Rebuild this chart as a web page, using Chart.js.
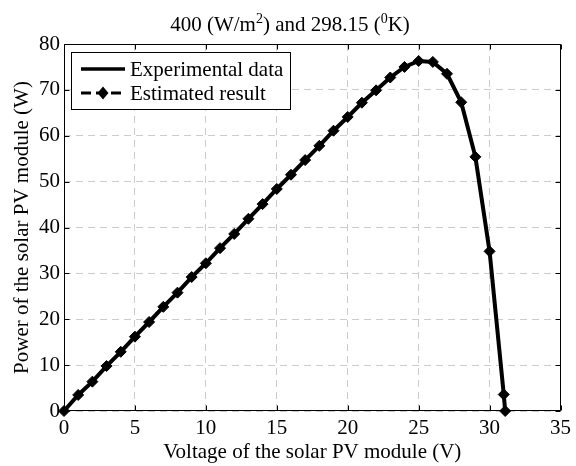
<!DOCTYPE html>
<html>
<head>
<meta charset="utf-8">
<script src="https://cdn.jsdelivr.net/npm/chart.js@4.4.1/dist/chart.umd.min.js"></script>
<style>
  html, body { margin: 0; padding: 0; background: #ffffff; }
  #wrap { width: 576px; height: 466px; }
</style>
</head>
<body>
<div id="wrap"><canvas id="chartPV" width="576" height="466"></canvas></div>
<script>
// values
const voltage = [0, 1, 2, 3, 4, 5, 6, 7, 8, 9, 10, 11, 12, 13, 14, 15, 16, 17, 18, 19, 20,
  21, 22, 23, 24, 25, 26, 27, 28, 29, 30, 31, 31.1];
const powerExperimental = [0, 3.5, 6.4, 9.8, 12.9, 16.2, 19.4, 22.7, 25.8, 29.2, 32.2, 35.5, 38.6,
  41.9, 45.1, 48.4, 51.5, 54.7, 57.8, 61.1, 64.1, 67.2, 69.9, 72.7, 75.0, 76.3, 76.1, 73.5, 67.3,
  55.4, 34.8, 3.6, 0];
const powerEstimated = [0, 3.5, 6.4, 9.8, 12.9, 16.2, 19.4, 22.7, 25.8, 29.2, 32.2, 35.5, 38.6,
  41.9, 45.1, 48.4, 51.5, 54.7, 57.8, 61.1, 64.1, 67.2, 69.9, 72.7, 75.0, 76.3, 76.1, 73.5, 67.3,
  55.4, 34.8, 3.6, 0];
const xTicks = [0, 5, 10, 15, 20, 25, 30, 35];
const yTicks = [0, 10, 20, 30, 40, 50, 60, 70, 80];
const seriesNames = ["Experimental data", "Estimated result"];

const FONT = "'Liberation Serif', 'Times New Roman', serif";

const toPoints = (xs, ys) => xs.map((x, i) => ({ x, y: ys[i] }));

// box + inward ticks on all four sides (matlab style)
const frame = {
  id: "frame",
  beforeDatasetsDraw(chart) {
    const { ctx, chartArea: a, scales: { x, y } } = chart;
    const L = Math.round(a.left) + 0.5, R = Math.round(a.right) - 0.5;
    const T = Math.round(a.top) + 0.5, B = Math.round(a.bottom) - 0.5;
    ctx.save();
    ctx.strokeStyle = "#000";
    ctx.lineWidth = 1;
    ctx.beginPath();
    ctx.rect(L, T, R - L, B - T);
    xTicks.forEach(v => {
      const px = Math.round(x.getPixelForValue(v)) + 0.5;
      ctx.moveTo(px, B); ctx.lineTo(px, B - 5);
      ctx.moveTo(px, T); ctx.lineTo(px, T + 5);
    });
    yTicks.forEach(v => {
      const py = Math.round(y.getPixelForValue(v)) + 0.5;
      ctx.moveTo(L, py); ctx.lineTo(L + 5, py);
      ctx.moveTo(R, py); ctx.lineTo(R - 5, py);
    });
    ctx.stroke();
    ctx.restore();
  }
};

// title with superscripts
const titleSup = {
  id: "titleSup",
  afterDraw(chart) {
    const ctx = chart.ctx;
    const parts = [
      ["400 (W/m", false], ["2", true], [") and 298.15 (", false], ["0", true], ["K)", false]
    ];
    const big = "21px " + FONT, small = "14px " + FONT;
    ctx.save();
    let total = 0;
    parts.forEach(([t, sup]) => { ctx.font = sup ? small : big; total += ctx.measureText(t).width; });
    let x = 290 - total / 2;
    const base = 31;
    ctx.fillStyle = "#000";
    ctx.textBaseline = "alphabetic";
    ctx.textAlign = "left";
    parts.forEach(([t, sup]) => {
      ctx.font = sup ? small : big;
      ctx.fillText(t, x, sup ? base - 8 : base);
      x += ctx.measureText(t).width;
    });
    ctx.restore();
  }
};

// legend box in the upper left corner
const legendBox = {
  id: "legendBox",
  afterDraw(chart) {
    const ctx = chart.ctx;
    const bx = 71.5, by = 52.5, bw = 219, bh = 57;
    ctx.save();
    ctx.fillStyle = "#fff";
    ctx.fillRect(bx, by, bw, bh);
    ctx.strokeStyle = "#000";
    ctx.lineWidth = 1;
    ctx.strokeRect(bx, by, bw, bh);

    const rows = [69, 93];
    ctx.strokeStyle = "#000";
    // solid sample
    ctx.lineWidth = 3.5;
    ctx.beginPath();
    ctx.moveTo(81, rows[0]); ctx.lineTo(125, rows[0]);
    ctx.stroke();
    // dashed sample with a diamond
    ctx.lineWidth = 3;
    ctx.setLineDash([10, 5]);
    ctx.beginPath();
    ctx.moveTo(81, rows[1]); ctx.lineTo(125, rows[1]);
    ctx.stroke();
    ctx.setLineDash([]);
    ctx.fillStyle = "#000";
    ctx.beginPath();
    ctx.moveTo(103, rows[1] - 6.5);
    ctx.lineTo(108.5, rows[1]);
    ctx.lineTo(103, rows[1] + 6.5);
    ctx.lineTo(97.5, rows[1]);
    ctx.closePath();
    ctx.fill();

    ctx.font = "21px " + FONT;
    ctx.textBaseline = "middle";
    ctx.textAlign = "left";
    ctx.fillText(seriesNames[0], 130, rows[0] + 1);
    ctx.fillText(seriesNames[1], 130, rows[1] + 1);
    ctx.restore();
  }
};

const ctx = document.getElementById("chartPV").getContext("2d");

new Chart(ctx, {
  type: "line",
  data: {
    datasets: [
      {
        label: seriesNames[0],
        data: toPoints(voltage, powerExperimental),
        borderColor: "#000",
        borderWidth: 4,
        pointRadius: 0,
        tension: 0,
        fill: false,
        clip: false
      },
      {
        label: seriesNames[1],
        data: toPoints(voltage, powerEstimated),
        borderColor: "#000",
        borderWidth: 2.5,
        borderDash: [10, 5],
        pointStyle: "rectRot",
        pointRadius: 5.5,
        pointBackgroundColor: "#000",
        pointBorderColor: "#000",
        pointBorderWidth: 1,
        tension: 0,
        fill: false,
        clip: false
      }
    ]
  },
  options: {
    responsive: false,
    animation: false,
    devicePixelRatio: 1,
    layout: { padding: { top: 44, right: 14, left: 0, bottom: 0 }, autoPadding: false },
    plugins: {
      legend: { display: false },
      title: { display: false },
      tooltip: { enabled: false }
    },
    scales: {
      x: {
        type: "linear",
        min: 0,
        max: 35,
        afterBuildTicks: s => { s.ticks = xTicks.map(v => ({ value: v })); },
        afterFit: s => { s.height = 55; },
        ticks: { color: "#000", font: { family: FONT, size: 21 }, padding: 5, maxRotation: 0 },
        grid: { color: "rgb(204,204,204)", lineWidth: 1, drawTicks: false },
        border: { display: false, dash: [7, 5] },
        title: {
          display: true,
          text: "Voltage of the solar PV module (V)",
          color: "#000",
          font: { family: FONT, size: 21 },
          padding: { top: 0, bottom: 1 }
        }
      },
      y: {
        type: "linear",
        min: 0,
        max: 80,
        afterBuildTicks: s => { s.ticks = yTicks.map(v => ({ value: v })); },
        afterFit: s => { s.width = 64; },
        ticks: { color: "#000", font: { family: FONT, size: 21 }, padding: 4 },
        grid: { color: "rgb(204,204,204)", lineWidth: 1, drawTicks: false },
        border: { display: false, dash: [7, 5] },
        title: {
          display: true,
          text: "Power of the solar PV module (W)",
          color: "#000",
          font: { family: FONT, size: 21 },
          padding: { top: 10, bottom: 0 }
        }
      }
    }
  },
  plugins: [frame, titleSup, legendBox]
});
</script>
</body>
</html>
